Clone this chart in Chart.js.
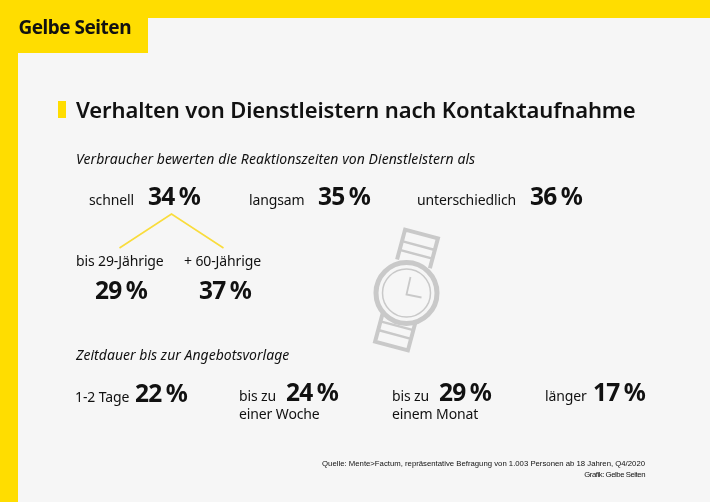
<!DOCTYPE html>
<html lang="de">
<head>
<meta charset="utf-8">
<title>Verhalten von Dienstleistern nach Kontaktaufnahme</title>
<script src="https://cdn.jsdelivr.net/npm/chart.js@4"></script>
<style>
    html, body { margin: 0; padding: 0; background: #f6f6f6; }
    #page { position: relative; width: 710px; height: 502px; overflow: hidden; background: #f6f6f6; }
    .band { position: absolute; background: #ffdd00; }
    #watch { position: absolute; left: 0; top: 0; }
    #chartBox { position: absolute; left: 0; top: 0; width: 710px; height: 502px; }
</style>
</head>
<body>
<div id="page">
    <div class="band" style="left:0;top:0;width:710px;height:18px"></div>
    <div class="band" style="left:0;top:0;width:18px;height:502px"></div>
    <div class="band" style="left:0;top:0;width:148px;height:53px"></div>
    <div class="band" style="left:58px;top:101px;width:8px;height:17px"></div>
    <svg id="watch" width="710" height="502" fill="none" stroke="#c9c9c9">
        <g transform="translate(406.5 290) rotate(15)">
            <path stroke-width="4" d="M-17 -27V-58H17V-27"/>
            <path stroke-width="2.5" d="M-17 -46H17M-17 -37H17"/>
            <path stroke-width="4" d="M-17 27V58H17V27"/>
            <path stroke-width="2.5" d="M-17 46H17M-17 37H17"/>
        </g>
        <g transform="translate(406.5 293)">
            <circle r="30.5" stroke-width="5" fill="#f6f6f6"/>
            <circle r="24" stroke-width="1.5"/>
            <path stroke-width="1.8" d="M4 -16L0 1.5L15 4.5"/>
        </g>
    </svg>
    <div id="chartBox"><canvas id="infoChart"></canvas></div>
</div>
<script>
// ======================
// DONNEES
// ======================
const reactionLabels = ['schnell', 'langsam', 'unterschiedlich'];
const reactionValues = [34, 35, 36];
const ageLabels = ['bis 29-Jährige', '+ 60-Jährige'];
const ageValues = [29, 37];
const durationLabels = ['1-2 Tage', 'bis zu', 'bis zu', 'länger'];
const durationSubLabels = ['einer Woche', 'einem Monat'];
const durationValues = [22, 24, 29, 17];

const logoText = 'Gelbe Seiten';
const titleText = 'Verhalten von Dienstleistern nach Kontaktaufnahme';
const reactionHeading = 'Verbraucher bewerten die Reaktionszeiten von Dienstleistern als';
const durationHeading = 'Zeitdauer bis zur Angebotsvorlage';
const sourceText = 'Quelle: Mente>Factum, repräsentative Befragung von 1.003 Personen ab 18 Jahren, Q4/2020';
const creditText = 'Grafik: Gelbe Seiten';

// ======================
// MISE EN PAGE (pixels de la page)
// ======================
const reactionLabelX = [89, 249, 417];
const reactionValueX = [148, 318, 530];
const ageLabelX = [76, 184];
const ageValueX = [95, 199];
const durationLabelX = [75, 239, 392, 545];
const durationLabelY = [402, 401, 401, 401];
const durationValueX = [135, 286, 439, 593];
const durationSubX = [239, 392];
const durationSubY = [419, 419];
const connectorX = [119.5, 171.5, 223.5];
const connectorY = [248, 214, 248];

const FONT = "'Noto Sans', 'Open Sans', sans-serif";
const SOURCE_FONT = "'Liberation Sans', sans-serif";
const percent = v => v + ' %';

function textSet(texts, xs, ys, font, spacing, align, wordGap) {
    return {
        type: 'scatter',
        texts: texts,
        textFont: font,
        textSpacing: spacing || 0,
        textWordGap: wordGap || 0,
        textAlign: align || 'left',
        data: texts.map((t, i) => ({ x: xs[i], y: ys[i] })),
        pointRadius: 0,
        pointHoverRadius: 0
    };
}

// Dessine les textes sur les points placés par les échelles
const textPlugin = {
    id: 'pointTexts',
    afterDatasetsDraw(chart) {
        const ctx = chart.ctx;
        chart.data.datasets.forEach((ds, d) => {
            if (!ds.texts) return;
            chart.getDatasetMeta(d).data.forEach((pt, i) => {
                ctx.save();
                ctx.font = ds.textFont;
                ctx.letterSpacing = ds.textSpacing + 'px';
                ctx.wordSpacing = ds.textWordGap + 'px';
                ctx.fillStyle = '#111111';
                ctx.textAlign = ds.textAlign;
                ctx.textBaseline = 'alphabetic';
                ctx.fillText(ds.texts[i], pt.x, pt.y);
                ctx.restore();
            });
        });
    }
};

const labelFont = '14px ' + FONT;
const valueFont = '700 24.5px ' + FONT;

function valueSet(values, xs, ys) {
    return textSet(values.map(percent), xs, ys, valueFont, -0.7, 'left', -1.5);
}

new Chart(document.getElementById('infoChart'), {
    type: 'scatter',
    data: {
        datasets: [
            {
                type: 'line',
                data: connectorX.map((x, i) => ({ x: x, y: connectorY[i] })),
                borderColor: '#f9dc3c',
                borderWidth: 1.6,
                pointRadius: 0,
                tension: 0,
                fill: false
            },
            textSet([logoText], [18.5], [33.5], '700 19px ' + FONT, -0.5),
            textSet([titleText], [76], [117.5], '600 22px ' + FONT, -0.12),
            textSet([reactionHeading], [76], [164], 'italic 14px ' + FONT, 0.06),
            textSet(reactionLabels, reactionLabelX, [205, 205, 205], labelFont, -0.12),
            valueSet(reactionValues, reactionValueX, [205, 205, 205]),
            textSet(ageLabels, ageLabelX, [266, 266], labelFont, -0.12),
            valueSet(ageValues, ageValueX, [299, 299]),
            textSet([durationHeading], [76], [360], 'italic 14px ' + FONT, 0.03),
            textSet(durationLabels, durationLabelX, durationLabelY, labelFont, -0.12),
            valueSet(durationValues, durationValueX, durationLabelY),
            textSet(durationSubLabels, durationSubX, durationSubY, labelFont, -0.12),
            textSet([sourceText], [645], [466], '7.75px ' + SOURCE_FONT, 0, 'right'),
            textSet([creditText], [645], [477], '7.75px ' + SOURCE_FONT, -0.45, 'right')
        ]
    },
    options: {
        responsive: true,
        maintainAspectRatio: false,
        animation: false,
        events: [],
        layout: { padding: 0 },
        plugins: { legend: { display: false }, tooltip: { enabled: false } },
        scales: {
            x: { type: 'linear', display: false, min: 0, max: 710 },
            y: { type: 'linear', display: false, min: 0, max: 502, reverse: true }
        }
    },
    plugins: [textPlugin]
});
</script>
</body>
</html>
